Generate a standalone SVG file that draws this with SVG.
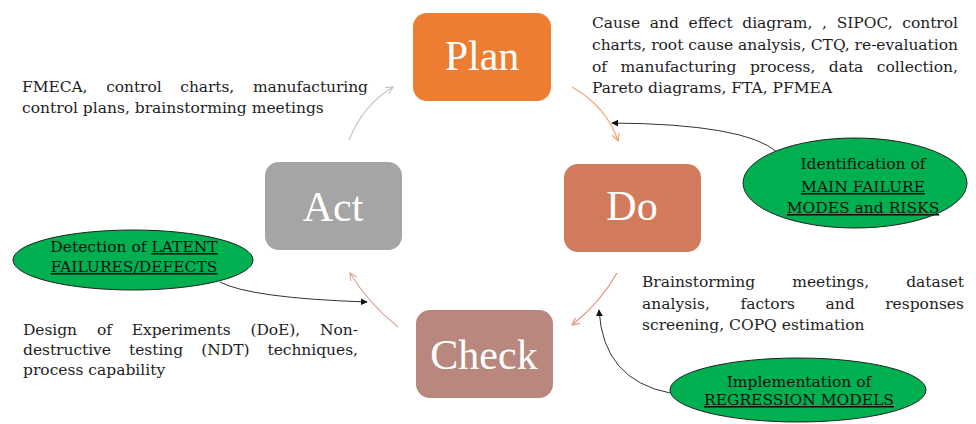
<svg xmlns="http://www.w3.org/2000/svg" width="976" height="424" viewBox="0 0 976 424">
<style>
.box-label{font-family:"Liberation Serif","DejaVu Serif",serif;font-size:42px;fill:#ffffff;text-anchor:middle}
.txt{font-family:"DejaVu Serif","Liberation Serif",serif;font-size:15.5px;fill:#1e1e1e}
.el-txt{font-family:"DejaVu Serif","Liberation Serif",serif;font-size:15.5px;fill:#111;text-anchor:middle}
.u{text-decoration:underline}
.ell{fill:#00B050;stroke:#222;stroke-width:1}
.cyc{fill:none;stroke-width:1.2}
.lnk{fill:none;stroke:#333;stroke-width:1}
</style>
<defs>
<marker id="blk" viewBox="0 0 10 10" refX="9" refY="5" markerWidth="7" markerHeight="7" orient="auto" markerUnits="userSpaceOnUse">
<path d="M0,0 L10,5 L0,10 z" fill="#111"/>
</marker>
<marker id="vOr" viewBox="0 0 10 10" refX="9" refY="5" markerWidth="9" markerHeight="9" orient="auto" markerUnits="userSpaceOnUse">
<path d="M1,1 L9,5 L1,9" fill="none" stroke="#F4A46E" stroke-width="1.3"/>
</marker>
<marker id="vSa" viewBox="0 0 10 10" refX="9" refY="5" markerWidth="9" markerHeight="9" orient="auto" markerUnits="userSpaceOnUse">
<path d="M1,1 L9,5 L1,9" fill="none" stroke="#E5907A" stroke-width="1.3"/>
</marker>
<marker id="vPk" viewBox="0 0 10 10" refX="9" refY="5" markerWidth="9" markerHeight="9" orient="auto" markerUnits="userSpaceOnUse">
<path d="M1,1 L9,5 L1,9" fill="none" stroke="#DDA59C" stroke-width="1.3"/>
</marker>
<marker id="vGr" viewBox="0 0 10 10" refX="9" refY="5" markerWidth="9" markerHeight="9" orient="auto" markerUnits="userSpaceOnUse">
<path d="M1,1 L9,5 L1,9" fill="none" stroke="#C4C4C4" stroke-width="1.3"/>
</marker>
</defs>
<rect width="976" height="424" fill="#ffffff"/>

<g id="connectors">
<path class="cyc" stroke="#F4A46E" d="M572,87 Q607,107 618,141" marker-end="url(#vOr)"/>
<path class="cyc" stroke="#E5907A" d="M617,273 Q600,303 572,325" marker-end="url(#vSa)"/>
<path class="cyc" stroke="#DDA59C" d="M398,327 Q368,303 350,273" marker-end="url(#vPk)"/>
<path class="cyc" stroke="#C4C4C4" d="M349,140 Q363,105 393,87" marker-end="url(#vGr)"/>
<path class="lnk" d="M777,152 Q745,124 612,123" marker-end="url(#blk)"/>
<path class="lnk" d="M220,282 Q250,298 367,302" marker-end="url(#blk)"/>
<path class="lnk" d="M670,393 Q603,380 599,310" marker-end="url(#blk)"/>
</g>

<g id="plan">
<rect x="413" y="13" width="138" height="88" rx="14" fill="#ED7D31"/>
<text class="box-label" x="482" y="70">Plan</text>
</g>
<g id="do">
<rect x="564" y="164" width="137" height="88" rx="14" fill="#D27B5C"/>
<text class="box-label" x="632" y="220">Do</text>
</g>
<g id="act">
<rect x="265" y="162" width="137" height="88" rx="14" fill="#A5A5A5"/>
<text class="box-label" x="333" y="221">Act</text>
</g>
<g id="check">
<rect x="416" y="310" width="137" height="88" rx="14" fill="#B8877E"/>
<text class="box-label" x="484" y="369">Check</text>
</g>

<g id="plan-notes">
<text class="txt" x="592" y="28" word-spacing="4.8" textLength="366" lengthAdjust="spacing">Cause and effect diagram, , SIPOC, control</text>
<text class="txt" x="592" y="50" textLength="366" lengthAdjust="spacing">charts, root cause analysis, CTQ, re-evaluation</text>
<text class="txt" x="592" y="72" word-spacing="8.5" textLength="366" lengthAdjust="spacing">of manufacturing process, data collection,</text>
<text class="txt" x="592" y="93">Pareto diagrams, FTA, PFMEA</text>
</g>
<g id="act-notes">
<text class="txt" x="22" y="92" word-spacing="13.9" textLength="346" lengthAdjust="spacing">FMECA, control charts, manufacturing</text>
<text class="txt" x="22" y="113">control plans, brainstorming meetings</text>
</g>
<g id="do-notes">
<text class="txt" x="642" y="287" word-spacing="32.2" textLength="322" lengthAdjust="spacing">Brainstorming meetings, dataset</text>
<text class="txt" x="642" y="309" word-spacing="25.6" textLength="322" lengthAdjust="spacing">analysis, factors and responses</text>
<text class="txt" x="642" y="330">screening, COPQ estimation</text>
</g>
<g id="check-notes">
<text class="txt" x="23" y="335" word-spacing="15.1" textLength="335" lengthAdjust="spacing">Design of Experiments (DoE), Non-</text>
<text class="txt" x="23" y="355" word-spacing="13.2" textLength="335" lengthAdjust="spacing">destructive testing (NDT) techniques,</text>
<text class="txt" x="23" y="375">process capability</text>
</g>

<g id="ellipse-identification">
<ellipse class="ell" cx="855" cy="183" rx="112" ry="45"/>
<text class="el-txt" x="863" y="169">Identification of</text>
<text class="el-txt u" x="863" y="192">MAIN FAILURE</text>
<text class="el-txt u" x="863" y="213">MODES and RISKS</text>
</g>
<g id="ellipse-detection">
<ellipse class="ell" cx="133" cy="260" rx="120" ry="30"/>
<text class="el-txt" x="134" y="252">Detection of <tspan class="u">LATENT</tspan></text>
<text class="el-txt u" x="134" y="272">FAILURES/DEFECTS</text>
</g>
<g id="ellipse-implementation">
<ellipse class="ell" cx="798" cy="390" rx="128" ry="32"/>
<text class="el-txt" x="799" y="387">Implementation of</text>
<text class="el-txt u" x="799" y="405">REGRESSION MODELS</text>
</g>
</svg>
